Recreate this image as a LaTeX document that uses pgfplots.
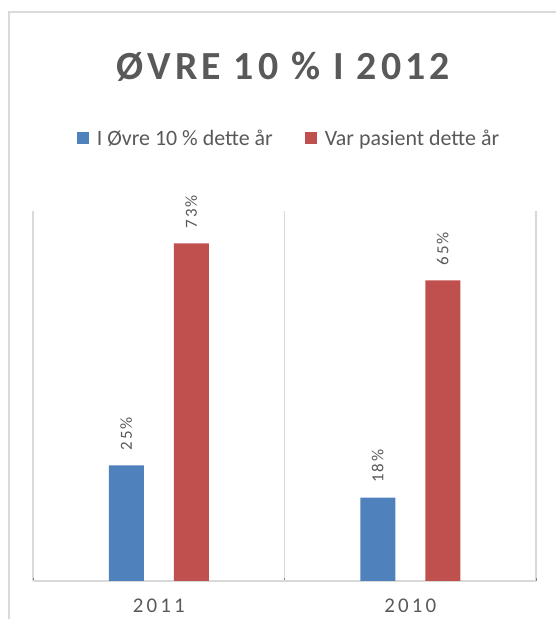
\documentclass[border=0pt]{standalone}
\usepackage{pgfplots}
\pgfplotsset{compat=1.18}
\usepackage{fontspec}
\setmainfont{Carlito}
\newfontfamily\spaced[LetterSpace=10]{Carlito}
\newfontfamily\wide[LetterSpace=15]{Carlito}
\definecolor{barblue}{HTML}{4F81BD}
\definecolor{barred}{HTML}{C0504D}
\definecolor{txt}{HTML}{595959}
\definecolor{gridc}{HTML}{D9D9D9}

\begin{document}
\begin{tikzpicture}
\useasboundingbox (-33bp,-38bp) rectangle (523bp,581bp);
\draw[gridc, line width=1.2bp] (-24bp,-45bp) -- (-24bp,569bp) -- (530bp,569bp);
\node[text=txt, font=\fontsize{40}{44}\selectfont\bfseries\spaced] at (250bp,514bp) {ØVRE 10 \% I 2012};
\begin{axis}[
  scale only axis,
  width=503bp,
  height=370bp,
  at={(0,0)}, anchor=south west,
  xmin=-0.5, xmax=1.5,
  ymin=0, ymax=80,
  axis x line*=bottom,
  axis y line=none,
  x axis line style={gridc, line width=1.2bp, -},
  xtick={0,1},
  xticklabels={2011,2010},
  major tick length=0pt,
  minor xtick={-0.5,0.5,1.5},
  xminorgrids,
  minor grid style={gridc, line width=1.2bp},
  xticklabel style={font=\fontsize{21}{23}\selectfont\wide, text=txt, yshift=-14bp},
  bar width=35bp,
  nodes near coords={\rotatebox{90}{\pgfmathprintnumber[assume math mode=true]{\pgfplotspointmeta}\%}},
  nodes near coords style={anchor=south, inner ysep=0pt, inner xsep=0pt, yshift=15bp,
    font=\fontsize{17}{19}\selectfont\spaced, text=txt},
  legend style={at={(0.509,1.197)}, anchor=center, draw=none, fill=none,
    legend columns=2, font=\fontsize{22}{24}\selectfont, text=txt,
    /tikz/every odd column/.append style={column sep=6bp},
    /tikz/every even column/.append style={column sep=30bp}},
  legend image code/.code={\fill[#1] (0bp,-6bp) rectangle (12bp,6bp);},
]
\addplot[ybar, bar shift=-32.5bp, fill=barblue, draw=none,
  every node near coord/.append style={xshift=-32.5bp}] coordinates {(0,25) (1,18)};
\addlegendentry{I Øvre 10 \% dette år}
\addplot[ybar, bar shift=32.5bp, fill=barred, draw=none,
  every node near coord/.append style={xshift=32.5bp}] coordinates {(0,73) (1,65)};
\addlegendentry{Var pasient dette år}
\end{axis}
\end{tikzpicture}
\end{document}
